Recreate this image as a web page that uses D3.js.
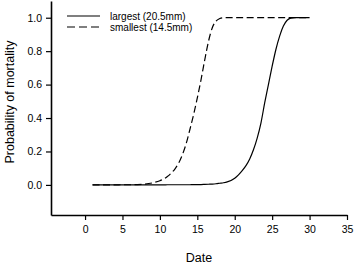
<!DOCTYPE html>
<html>
<head>
<meta charset="utf-8">
<script src="https://cdn.jsdelivr.net/npm/d3@7"></script>
<style>
  body { margin: 0; background: #fff; }
  svg { font-family: "Liberation Sans", Arial, sans-serif; }
</style>
</head>
<body>
<div class="chart"></div>
<script>
// values
var dates = [1, 2, 3, 4, 5, 6, 7, 8, 9, 10, 10.5, 11, 11.5, 12, 12.5, 13, 13.5, 14, 14.5, 15, 15.5, 16, 16.5, 17, 17.5, 18, 18.5, 19, 20, 20.5, 21, 21.5, 22, 22.5, 23, 23.5, 24, 24.5, 25, 25.5, 26, 26.5, 27, 27.5, 28, 29, 30];
var largest = [0, 0, 0, 0, 0, 0, 0, 0, 0, 0, 0, 0.001, 0.001, 0.001, 0.001, 0.001, 0.001, 0.001, 0.002, 0.002, 0.002, 0.003, 0.004, 0.005, 0.007, 0.01, 0.013, 0.018, 0.04, 0.06, 0.085, 0.115, 0.155, 0.21, 0.28, 0.37, 0.49, 0.6, 0.71, 0.81, 0.89, 0.95, 0.985, 0.998, 1, 1, 1];
var smallest = [0, 0, 0, 0, 0.001, 0.001, 0.002, 0.005, 0.012, 0.025, 0.035, 0.05, 0.07, 0.095, 0.13, 0.18, 0.245, 0.33, 0.42, 0.52, 0.63, 0.75, 0.86, 0.94, 0.98, 0.995, 1, 1, 1, 1, 1, 1, 1, 1, 1, 1, 1, 1, 1, 1, 1, 1, 1, 1, 1, 1, 1];
var seriesNames = ["largest (20.5mm)", "smallest (14.5mm)"];
var xTicks = [0, 5, 10, 15, 20, 25, 30, 35];
var yTicks = [0, 0.2, 0.4, 0.6, 0.8, 1.0];

var width = 355, height = 265;
var margin = {top: 1, right: 8, bottom: 50, left: 51};
var w = width - margin.left - margin.right,
    h = height - margin.top - margin.bottom;

var svg = d3.select('.chart').append('svg')
  .attr('width', width)
  .attr('height', height);

var g = svg.append('g')
  .attr('transform', 'translate(' + margin.left + ',' + margin.top + ')');

var x = d3.scaleLinear()
  .domain([-4.55, 35])
  .range([0, w]);

var y = d3.scaleLinear()
  .domain([-0.18, 1.1])
  .range([h, 0]);

// X axis
var xAxis = g.append('g')
  .attr('transform', 'translate(0,' + h + ')')
  .call(d3.axisBottom(x).tickValues(xTicks).tickSize(5).tickSizeOuter(0).tickPadding(6));

// Y axis
var yAxis = g.append('g')
  .call(d3.axisLeft(y).tickValues(yTicks).tickFormat(d3.format('.1f')).tickSize(5).tickSizeOuter(0).tickPadding(4));

[xAxis, yAxis].forEach(function(a) {
  a.selectAll('path').attr('stroke', '#000').attr('stroke-width', 1.6);
  a.selectAll('line').attr('stroke', '#000').attr('stroke-width', 1.2);
  a.selectAll('text').attr('fill', '#000').style('font-size', '10.5px');
});

// axis titles
svg.append('text')
  .attr('x', 199)
  .attr('y', 262)
  .attr('text-anchor', 'middle')
  .style('font-size', '12.5px')
  .text('Date');

svg.append('text')
  .attr('transform', 'translate(14,102) rotate(-90)')
  .attr('text-anchor', 'middle')
  .style('font-size', '12.5px')
  .text('Probability of mortality');

// curves
var line = d3.line()
  .x(function(d) { return x(d.date); })
  .y(function(d) { return y(d.value); })
  .curve(d3.curveMonotoneX);

var series = [
  {values: largest, dash: null},
  {values: smallest, dash: '7,3.5'}
];

series.forEach(function(s) {
  var pts = dates.map(function(d, i) { return {date: d, value: s.values[i]}; });
  g.append('path')
    .datum(pts)
    .attr('d', line)
    .attr('fill', 'none')
    .attr('stroke', '#000')
    .attr('stroke-width', 1.2)
    .attr('stroke-dasharray', s.dash);
});

// legend
var legend = svg.append('g').attr('transform', 'translate(67,16)');
series.forEach(function(s, i) {
  legend.append('line')
    .attr('x1', 0).attr('x2', 33)
    .attr('y1', i * 11).attr('y2', i * 11)
    .attr('stroke', '#000')
    .attr('stroke-width', 1.1)
    .attr('stroke-dasharray', s.dash ? '8,4' : null);
  legend.append('text')
    .attr('x', 43)
    .attr('y', i * 11 + 3.5)
    .style('font-size', '10px')
    .text(seriesNames[i]);
});
</script>
</body>
</html>
